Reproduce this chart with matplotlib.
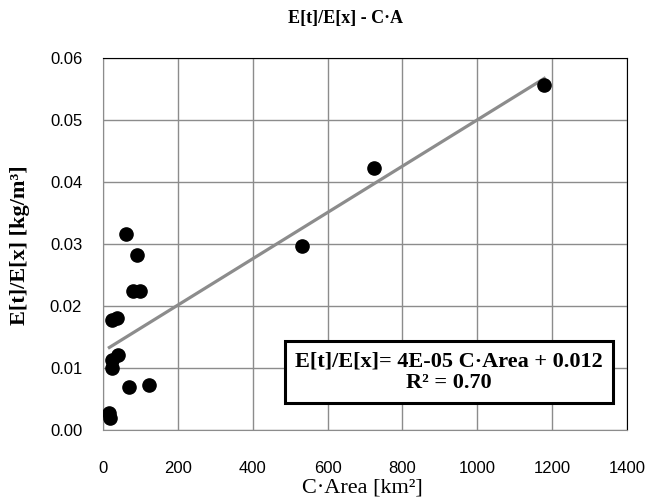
import matplotlib
matplotlib.use("Agg")
import matplotlib.pyplot as plt
import numpy as np

# valores (C·Area em km², E[t]/E[x] em kg/m³)
c_area = [17, 20, 23, 23, 41, 25, 37, 70, 124, 79, 99, 90, 61, 533, 724, 1179]
et_ex = [0.0027, 0.0019, 0.0113, 0.0100, 0.0121, 0.0178, 0.0180, 0.0070,
         0.0072, 0.0225, 0.0225, 0.0282, 0.0316, 0.0297, 0.0422, 0.0556]

x_ticks = [0, 200, 400, 600, 800, 1000, 1200, 1400]
y_ticks = [0.00, 0.01, 0.02, 0.03, 0.04, 0.05, 0.06]

title = "E[t]/E[x] - C·A"
xlabel = "C·Area [km²]"
ylabel = "E[t]/E[x] [kg/m³]"
eq_text = "E[t]/E[x]= 4E-05 C·Area + 0.012\nR² = 0.70"

serif = "Liberation Serif"
sans = "Liberation Sans"

fig = plt.figure(figsize=(6.63, 5.03), dpi=100)
ax = fig.add_axes([103 / 663, 1 - 430 / 503, 524 / 663, 372 / 503])

ax.set_xlim(0, 1400)
ax.set_ylim(0, 0.06)
ax.set_xticks(x_ticks)
ax.set_yticks(y_ticks)
ax.set_xticklabels([str(v) for v in x_ticks], fontfamily=sans, fontsize=12)
ax.set_yticklabels([f"{v:.2f}" for v in y_ticks], fontfamily=sans, fontsize=12)
ax.tick_params(length=0)
ax.tick_params(axis="x", pad=22)
ax.tick_params(axis="y", pad=15)
ax.grid(True, color="#8c8c8c", linewidth=1.0)
ax.set_axisbelow(True)
for side in ("left", "bottom"):
    ax.spines[side].set_color("#8c8c8c")
for side in ("top", "right"):
    ax.spines[side].set_color("black")

# linha de tendência (ajuste linear)
xs = np.array(c_area, dtype=float)
ys = np.array(et_ex)
a, b = np.polyfit(xs, ys, 1)
xl = np.array([xs.min(), xs.max()])
ax.plot(xl, a * xl + b, color="#8c8c8c", linewidth=2.3, zorder=2)

ax.plot(c_area, et_ex, "o", color="black", markersize=9.5, zorder=3)

ax.text(0.66, 0.155, eq_text, transform=ax.transAxes, ha="center", va="center",
        fontfamily=serif, fontweight="bold", fontsize=16, linespacing=1.15,
        bbox=dict(boxstyle="square,pad=0.45", facecolor="white",
                  edgecolor="black", linewidth=2.2), zorder=4)

fig.text(345 / 663, 1 - 18 / 503, title, ha="center", va="center",
         fontfamily=serif, fontweight="bold", fontsize=13)
fig.text(362 / 663, 1 - 488 / 503, xlabel, ha="center", va="center",
         fontfamily=serif, fontsize=16)
fig.text(20 / 663, 1 - 245 / 503, ylabel, ha="center", va="center",
         rotation=90, fontfamily=serif, fontweight="bold", fontsize=16)

fig.savefig("out.png", dpi=100)
